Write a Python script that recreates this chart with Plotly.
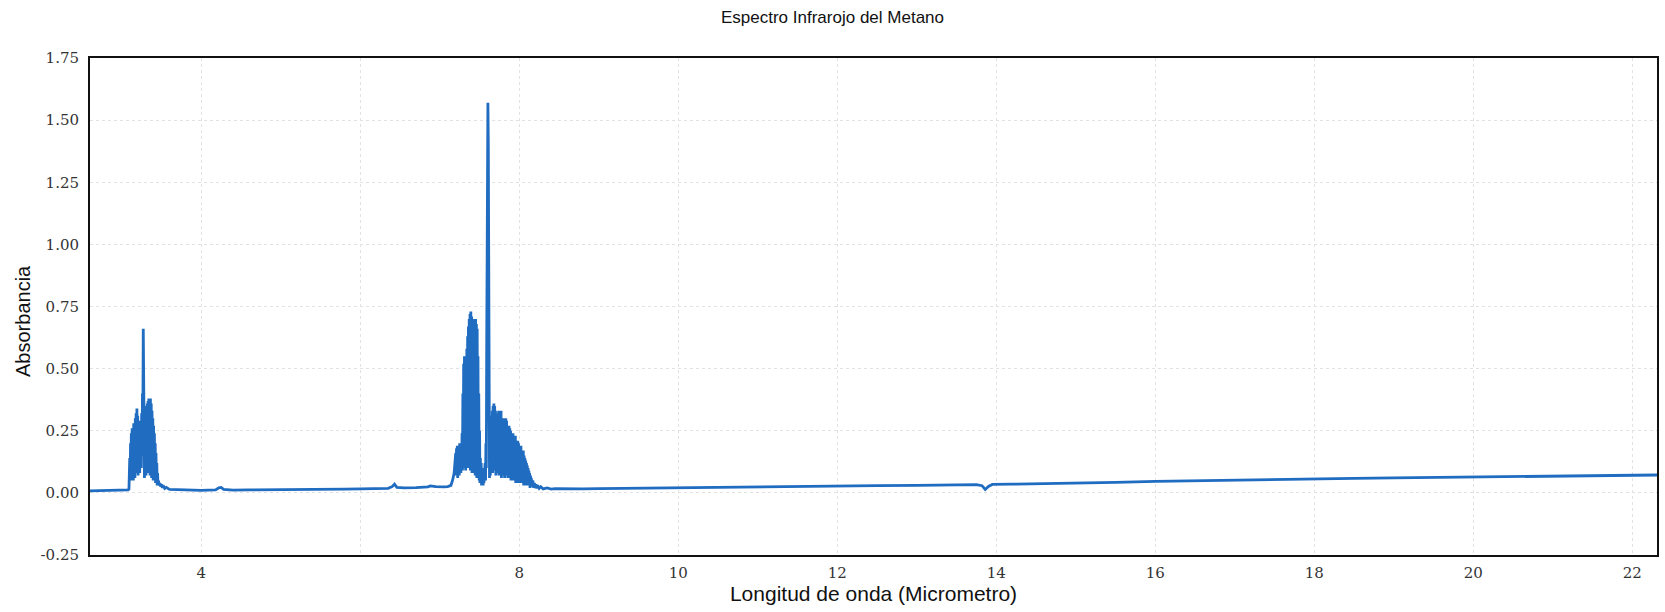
import plotly.graph_objects as go

# ---------------- data ----------------
# baseline before the 3.3 um band
pre_wl = [2.60, 2.70, 2.80, 2.90, 3.00, 3.05, 3.07, 3.08, 3.09]
pre_ab = [0.008, 0.009, 0.008, 0.010, 0.010, 0.011, 0.012, 0.012, 0.015]

# C-H stretching band (~3.3 um)
band1_wl = [3.095, 3.100, 3.105, 3.110, 3.115, 3.120, 3.125, 3.130, 3.135, 3.140,
            3.145, 3.150, 3.155, 3.160, 3.165, 3.170, 3.175, 3.180, 3.185, 3.190,
            3.195, 3.200, 3.205, 3.210, 3.215, 3.220, 3.225, 3.230, 3.235, 3.240,
            3.245, 3.250, 3.255, 3.260, 3.265, 3.270, 3.275, 3.280, 3.285, 3.290,
            3.295, 3.300, 3.305, 3.310, 3.315, 3.320, 3.325, 3.330, 3.335, 3.340,
            3.345, 3.350, 3.355, 3.360, 3.365, 3.370, 3.375, 3.380, 3.385, 3.390,
            3.395, 3.400, 3.405, 3.410, 3.415, 3.420, 3.425, 3.430, 3.435, 3.440,
            3.445, 3.450, 3.455, 3.460, 3.470, 3.480, 3.490, 3.500, 3.510, 3.520,
            3.540, 3.560, 3.600]
band1_ab = [0.06, 0.14, 0.05, 0.20, 0.06, 0.24, 0.05, 0.26, 0.07, 0.25,
            0.05, 0.28, 0.08, 0.27, 0.06, 0.30, 0.08, 0.32, 0.10, 0.34,
            0.09, 0.31, 0.07, 0.28, 0.10, 0.27, 0.08, 0.29, 0.12, 0.28,
            0.10, 0.32, 0.15, 0.40, 0.30, 0.66, 0.35, 0.28, 0.06, 0.30,
            0.08, 0.33, 0.07, 0.35, 0.09, 0.36, 0.10, 0.37, 0.08, 0.38,
            0.10, 0.37, 0.07, 0.38, 0.09, 0.36, 0.06, 0.33, 0.07, 0.30,
            0.05, 0.27, 0.06, 0.24, 0.05, 0.20, 0.04, 0.16, 0.04, 0.12,
            0.03, 0.08, 0.03, 0.05, 0.03, 0.04, 0.025, 0.035, 0.02, 0.03,
            0.018, 0.022, 0.014]

# baseline between the two bands
mid_wl = [3.70, 3.80, 3.90, 4.00, 4.10, 4.18, 4.22, 4.25, 4.28, 4.40,
          4.60, 4.80, 5.00, 5.20, 5.40, 5.60, 5.80, 6.00, 6.20, 6.35,
          6.40, 6.43, 6.46, 6.55, 6.70, 6.85, 6.88, 6.95, 7.05]
mid_ab = [0.012, 0.010, 0.011, 0.010, 0.011, 0.012, 0.020, 0.022, 0.014, 0.011,
          0.012, 0.012, 0.013, 0.013, 0.014, 0.015, 0.015, 0.016, 0.016, 0.018,
          0.025, 0.035, 0.022, 0.020, 0.021, 0.024, 0.028, 0.025, 0.024]

# C-H bending band (~7.6 um)
band2_wl = [7.100, 7.140, 7.160, 7.180, 7.190, 7.200, 7.205, 7.210, 7.215, 7.220,
            7.225, 7.230, 7.235, 7.240, 7.245, 7.250, 7.255, 7.260, 7.265, 7.270,
            7.275, 7.280, 7.285, 7.290, 7.295, 7.300, 7.305, 7.310, 7.315, 7.320,
            7.325, 7.330, 7.335, 7.340, 7.345, 7.350, 7.355, 7.360, 7.365, 7.370,
            7.375, 7.380, 7.385, 7.390, 7.395, 7.400, 7.405, 7.410, 7.415, 7.420,
            7.425, 7.430, 7.435, 7.440, 7.445, 7.450, 7.455, 7.460, 7.465, 7.470,
            7.475, 7.480, 7.485, 7.490, 7.495, 7.500, 7.505, 7.510, 7.515, 7.520,
            7.525, 7.530, 7.535, 7.540, 7.545, 7.550, 7.555, 7.560, 7.565, 7.570,
            7.575, 7.580, 7.585, 7.590, 7.595, 7.600, 7.605, 7.610, 7.615, 7.620,
            7.625, 7.630, 7.635, 7.640, 7.645, 7.650, 7.655, 7.660, 7.665, 7.670,
            7.675, 7.680, 7.685, 7.690, 7.695, 7.700, 7.705, 7.710, 7.715, 7.720,
            7.725, 7.730, 7.735, 7.740, 7.745, 7.750, 7.755, 7.760, 7.765, 7.770,
            7.775, 7.780, 7.785, 7.790, 7.795, 7.800, 7.805, 7.810, 7.815, 7.820,
            7.825, 7.830, 7.835, 7.840, 7.845, 7.850, 7.855, 7.860, 7.865, 7.870,
            7.875, 7.880, 7.885, 7.890, 7.895, 7.900, 7.905, 7.910, 7.915, 7.920,
            7.925, 7.930, 7.935, 7.940, 7.945, 7.950, 7.955, 7.960, 7.965, 7.970,
            7.975, 7.980, 7.985, 7.990, 7.995, 8.000, 8.005, 8.010, 8.015, 8.020,
            8.025, 8.030, 8.035, 8.040, 8.045, 8.050, 8.055, 8.060, 8.065, 8.070,
            8.075, 8.080, 8.085, 8.090, 8.095, 8.100, 8.105, 8.110, 8.115, 8.120,
            8.125, 8.130, 8.135, 8.140, 8.145, 8.150, 8.160, 8.170, 8.180, 8.190,
            8.200, 8.210, 8.220, 8.230, 8.250, 8.270, 8.300, 8.350, 8.400]
band2_ab = [0.025, 0.030, 0.050, 0.080, 0.120, 0.160, 0.070, 0.180, 0.080, 0.190,
            0.060, 0.180, 0.080, 0.190, 0.070, 0.200, 0.090, 0.190, 0.080, 0.200,
            0.100, 0.240, 0.090, 0.400, 0.120, 0.520, 0.100, 0.550, 0.120, 0.510,
            0.090, 0.530, 0.110, 0.580, 0.100, 0.630, 0.120, 0.670, 0.100, 0.700,
            0.120, 0.720, 0.090, 0.730, 0.110, 0.710, 0.080, 0.700, 0.100, 0.690,
            0.080, 0.700, 0.090, 0.690, 0.070, 0.700, 0.080, 0.680, 0.060, 0.660,
            0.070, 0.550, 0.060, 0.400, 0.050, 0.250, 0.040, 0.140, 0.040, 0.120,
            0.030, 0.100, 0.040, 0.090, 0.030, 0.080, 0.040, 0.100, 0.050, 0.120,
            0.050, 0.200, 0.100, 0.600, 1.200, 1.500, 1.570, 1.400, 0.500, 0.120,
            0.060, 0.220, 0.070, 0.280, 0.090, 0.310, 0.100, 0.330, 0.080, 0.350,
            0.110, 0.360, 0.090, 0.350, 0.100, 0.330, 0.070, 0.300, 0.090, 0.310,
            0.080, 0.320, 0.100, 0.330, 0.070, 0.320, 0.090, 0.310, 0.080, 0.330,
            0.060, 0.300, 0.080, 0.290, 0.070, 0.300, 0.090, 0.280, 0.060, 0.290,
            0.080, 0.300, 0.070, 0.290, 0.090, 0.270, 0.060, 0.260, 0.080, 0.270,
            0.060, 0.260, 0.070, 0.250, 0.050, 0.240, 0.070, 0.230, 0.050, 0.240,
            0.060, 0.230, 0.050, 0.220, 0.060, 0.230, 0.040, 0.210, 0.060, 0.200,
            0.040, 0.210, 0.050, 0.200, 0.040, 0.190, 0.050, 0.180, 0.040, 0.190,
            0.050, 0.170, 0.040, 0.160, 0.050, 0.170, 0.030, 0.150, 0.040, 0.140,
            0.030, 0.130, 0.040, 0.120, 0.030, 0.110, 0.030, 0.100, 0.030, 0.090,
            0.030, 0.080, 0.020, 0.070, 0.030, 0.060, 0.025, 0.050, 0.020, 0.040,
            0.020, 0.035, 0.018, 0.030, 0.018, 0.025, 0.016, 0.020, 0.015]

# baseline after the bands (incl. the small dip near 13.9 um)
post_wl = [8.45, 8.60, 8.80, 9.00, 9.50, 10.00, 10.50, 11.00, 11.50, 12.00,
           12.50, 13.00, 13.50, 13.75, 13.82, 13.86, 13.90, 13.95, 14.20, 14.50,
           15.00, 15.50, 16.00, 16.50, 17.00, 17.50, 18.00, 18.50, 19.00, 19.50,
           20.00, 20.50, 21.00, 21.50, 22.00, 22.31]
post_ab = [0.017, 0.016, 0.016, 0.017, 0.019, 0.021, 0.022, 0.024, 0.025, 0.027,
           0.029, 0.030, 0.032, 0.033, 0.029, 0.014, 0.026, 0.034, 0.035, 0.036,
           0.039, 0.042, 0.046, 0.049, 0.052, 0.054, 0.056, 0.058, 0.060, 0.062,
           0.064, 0.066, 0.068, 0.069, 0.071, 0.072]

x_tick_vals = [4, 6, 8, 10, 12, 14, 16, 18, 20, 22]
x_tick_text = ["4", "", "8", "10", "12", "14", "16", "18", "20", "22"]
y_tick_vals = [-0.25, 0.0, 0.25, 0.5, 0.75, 1.0, 1.25, 1.5, 1.75]
y_tick_text = ["-0.25", "0.00", "0.25", "0.50", "0.75", "1.00", "1.25", "1.50", "1.75"]

wavelength = pre_wl + band1_wl + mid_wl + band2_wl + post_wl
absorbance = pre_ab + band1_ab + mid_ab + band2_ab + post_ab

# ---------------- figure ----------------
fig = go.Figure()
fig.add_trace(go.Scatter(
    x=wavelength, y=absorbance, mode="lines",
    line=dict(color="#1f6cc1", width=2.8),
    showlegend=False,
))

serif = "DejaVu Serif, Liberation Serif, serif"
sans = "Liberation Sans, Arial, sans-serif"

fig.update_layout(
    width=1665, height=612,
    paper_bgcolor="white", plot_bgcolor="white",
    margin=dict(l=90, r=6, t=58, b=57),
    title=dict(text="Espectro Infrarojo del Metano", x=0.5, xanchor="center",
               y=0.972, yanchor="middle",
               font=dict(family=sans, size=17, color="#111")),
    xaxis=dict(
        range=[2.6, 22.31],
        tickvals=x_tick_vals, ticktext=x_tick_text,
        showgrid=True, gridcolor="#e2e2e2", griddash="dot", gridwidth=1,
        zeroline=False,
        showline=True, mirror=True, linecolor="#111", linewidth=2,
        ticks="outside", ticklen=3, tickcolor="rgba(0,0,0,0)",
        tickfont=dict(family=serif, size=15, color="#333"),
        title=dict(text="Longitud de onda (Micrometro)", standoff=2,
                   font=dict(family=sans, size=21, color="#111")),
    ),
    yaxis=dict(
        range=[-0.25, 1.75],
        tickvals=y_tick_vals, ticktext=y_tick_text,
        showgrid=True, gridcolor="#e2e2e2", griddash="dot", gridwidth=1,
        zeroline=False,
        showline=True, mirror=True, linecolor="#111", linewidth=2,
        ticks="outside", ticklen=6, tickcolor="rgba(0,0,0,0)",
        tickfont=dict(family=serif, size=15, color="#333"),
    ),
    annotations=[dict(
        text="Absorbancia", textangle=-90,
        xref="paper", yref="paper", x=-0.0424, y=0.47,
        xanchor="center", yanchor="middle", showarrow=False,
        font=dict(family=sans, size=20, color="#111"),
    )],
)

fig.write_html("out.html",
               config={"displayModeBar": False},
               post_script="document.body.style.margin='0';document.body.style.overflow='hidden';")
